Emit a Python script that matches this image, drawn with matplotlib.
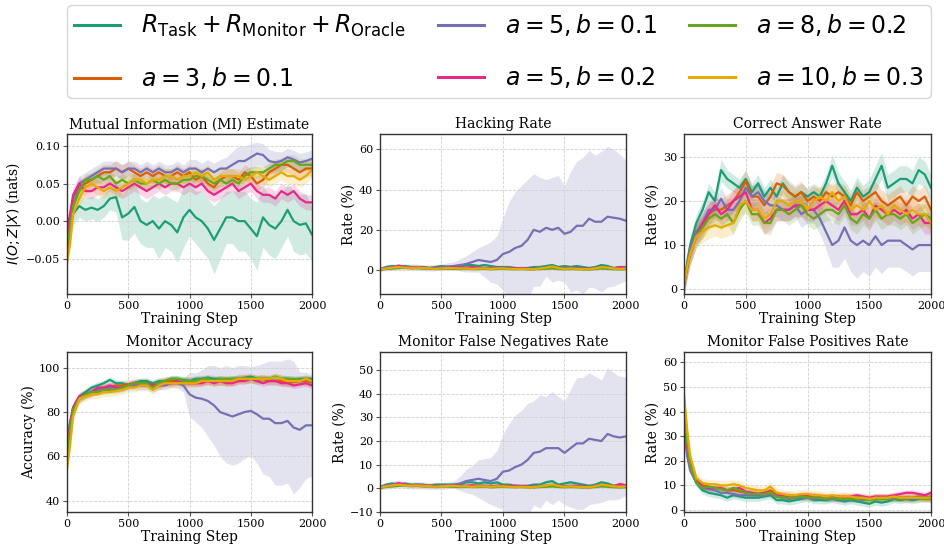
import numpy as np
import matplotlib
matplotlib.use("Agg")
import matplotlib.pyplot as plt

plt.rcParams['font.family'] = 'DejaVu Serif'
plt.rcParams['mathtext.fontset'] = 'dejavusans'

# training steps (x positions of the logged points)
steps = [0, 25, 50] + list(range(100, 2001, 50))

labels = [r'$R_{\mathrm{Task}} + R_{\mathrm{Monitor}} + R_{\mathrm{Oracle}}$',
          r'$a = 3, b = 0.1$', r'$a = 5, b = 0.1$', r'$a = 5, b = 0.2$',
          r'$a = 8, b = 0.2$', r'$a = 10, b = 0.3$']
colors = ['#1b9e77', '#d95f02', '#7570b3', '#e7298a', '#66a61e', '#e6ab02']

# ---- Mutual information estimate (nats)
mi_task = [-0.03, -0.01, 0.01, 0.02, 0.015, 0.018, 0.015, 0.02, 0.03, 0.032, 0.005, 0.01, 0.019, 0.0,
           -0.005, 0.0, -0.01, 0.0, -0.005, -0.015, 0.005, 0.015, 0.005, 0.0, -0.01, -0.025, -0.01, 0.005,
           0.005, 0.0, 0.0, -0.01, -0.02, 0.005, -0.005, -0.01, 0.0, 0.015, 0.0, -0.005, -0.003, -0.018]
mi_a3 = [-0.05, -0.02, 0.02, 0.045, 0.05, 0.055, 0.06, 0.065, 0.065, 0.07, 0.065, 0.07, 0.065, 0.06,
         0.065, 0.06, 0.065, 0.06, 0.06, 0.065, 0.06, 0.065, 0.055, 0.06, 0.05, 0.045, 0.055, 0.06,
         0.06, 0.055, 0.065, 0.06, 0.05, 0.055, 0.065, 0.07, 0.075, 0.075, 0.07, 0.065, 0.07, 0.07]
mi_a5b1 = [-0.02, 0.0, 0.03, 0.05, 0.055, 0.06, 0.065, 0.07, 0.07, 0.07, 0.065, 0.07, 0.07, 0.065,
           0.07, 0.065, 0.07, 0.065, 0.065, 0.07, 0.065, 0.07, 0.07, 0.065, 0.07, 0.065, 0.07, 0.07,
           0.075, 0.08, 0.08, 0.085, 0.09, 0.088, 0.08, 0.078, 0.08, 0.085, 0.082, 0.078, 0.08, 0.083]
mi_a5b2 = [-0.015, 0.01, 0.035, 0.05, 0.04, 0.04, 0.045, 0.045, 0.05, 0.045, 0.04, 0.045, 0.05, 0.045,
           0.04, 0.045, 0.05, 0.045, 0.05, 0.05, 0.045, 0.05, 0.045, 0.05, 0.04, 0.035, 0.04, 0.045,
           0.05, 0.04, 0.045, 0.05, 0.04, 0.035, 0.035, 0.03, 0.04, 0.035, 0.04, 0.03, 0.025, 0.025]
mi_a8 = [-0.03, -0.01, 0.02, 0.04, 0.055, 0.055, 0.06, 0.055, 0.06, 0.05, 0.055, 0.05, 0.055, 0.05,
         0.05, 0.055, 0.05, 0.055, 0.05, 0.05, 0.055, 0.055, 0.06, 0.06, 0.055, 0.05, 0.055, 0.05,
         0.055, 0.05, 0.06, 0.065, 0.065, 0.065, 0.07, 0.075, 0.075, 0.08, 0.08, 0.075, 0.075, 0.075]
mi_a10 = [-0.055, -0.03, 0.01, 0.03, 0.045, 0.05, 0.045, 0.04, 0.045, 0.04, 0.045, 0.05, 0.055, 0.055,
          0.05, 0.055, 0.055, 0.06, 0.06, 0.055, 0.06, 0.06, 0.065, 0.06, 0.065, 0.055, 0.06, 0.06,
          0.06, 0.06, 0.055, 0.06, 0.065, 0.06, 0.055, 0.06, 0.065, 0.06, 0.06, 0.055, 0.06, 0.068]
mi_task_sd = [0.02, 0.02, 0.015, 0.015, 0.015, 0.015, 0.015, 0.015, 0.015, 0.02, 0.03, 0.035, 0.035, 0.03,
              0.03, 0.035, 0.04, 0.035, 0.035, 0.04, 0.04, 0.035, 0.035, 0.04, 0.04, 0.045, 0.04, 0.035,
              0.035, 0.04, 0.04, 0.04, 0.045, 0.04, 0.04, 0.04, 0.035, 0.035, 0.04, 0.04, 0.04, 0.035]
mi_a5b1_sd = [0.02, 0.015, 0.01, 0.01, 0.01, 0.01, 0.01, 0.01, 0.01, 0.01, 0.01, 0.01, 0.01, 0.01,
              0.01, 0.01, 0.01, 0.01, 0.01, 0.01, 0.01, 0.012, 0.012, 0.012, 0.012, 0.012, 0.012, 0.015,
              0.018, 0.02, 0.02, 0.018, 0.015, 0.015, 0.015, 0.015, 0.012, 0.012, 0.012, 0.012, 0.012, 0.012]

# ---- Hacking rate (%)
hk_task = [0.5, 1, 1.5, 2, 1.5, 2, 1.5, 1.5, 1.5, 1, 1.5, 2, 1.5, 1.5, 1.5, 2.5, 2.5, 2, 2.5, 2, 1.5,
           1.5, 1.5, 1, 1, 1, 1.5, 1.5, 2, 2.5, 1.5, 2, 1.5, 2, 1.5, 1, 1.5, 2.5, 2, 1, 1.5, 1.5]
hk_a3 = [0.3, 0.5, 0.8, 1, 1.2, 1.5, 1, 1.2, 1, 1, 0.8, 1, 1, 1.2, 1, 1, 0.8, 1, 1, 0.8, 1,
         1, 1, 0.8, 0.8, 0.5, 0.5, 0.8, 1, 1.5, 1, 0.8, 0.8, 0.8, 0.5, 0.5, 1, 1.5, 1.2, 1, 0.8, 1]
hk_a5b1 = [0.5, 0.8, 1, 1.5, 1.5, 1.5, 1.5, 1.5, 1.2, 1, 1.2, 1.5, 1.8, 2, 2.5, 3, 4, 5, 4.5, 4, 5,
           8, 9, 11, 12, 15, 20, 19, 21, 20, 21, 18, 19, 22, 22, 25.5, 24, 24, 26.5, 26, 25.5, 24.5]
hk_a5b2 = [0.3, 0.5, 1, 1.2, 2.2, 1.5, 1.2, 1.5, 1.2, 1, 0.8, 1, 1, 1.5, 1.2, 1.2, 1.5, 1.2, 1, 1, 1.2,
           1, 0.8, 1, 0.8, 0.8, 0.5, 0.8, 1.2, 1.5, 1, 0.8, 1, 1, 0.8, 0.5, 0.8, 1.2, 1, 0.8, 1.5, 1.2]
hk_a8 = [0.2, 0.4, 0.6, 0.8, 1, 1.2, 1, 1, 0.8, 0.8, 0.5, 0.8, 0.8, 0.6, 0.5, 0.6, 0.5, 0.5, 0.6, 0.4, 0.5,
         0.6, 0.5, 0.4, 0.5, 0.4, 0.4, 0.5, 0.6, 0.8, 0.5, 0.4, 0.5, 0.4, 0.3, 0.3, 0.5, 0.8, 0.6, 0.4, 0.3, 0.4]
hk_a10 = [0.3, 0.5, 0.8, 1.2, 1.5, 1.2, 1, 1.2, 1, 0.8, 0.6, 0.8, 1, 1, 0.8, 0.8, 0.6, 0.8, 0.8, 0.6, 0.8,
          0.8, 0.6, 0.5, 0.6, 0.5, 0.4, 0.8, 1.2, 1.8, 1, 0.6, 0.8, 0.6, 0.5, 0.4, 0.8, 1.5, 1.2, 0.8, 0.6, 0.8]
hk_a5b1_sd = [1, 1.2, 1.5, 1.5, 1.5, 1.5, 1.5, 1.5, 1.5, 1.5, 1.5, 1.5, 1.8, 2, 3, 4, 5, 6, 8, 10, 12,
              18, 25, 28, 30, 30, 28, 27, 24, 26, 26, 24, 30, 32, 34, 34, 33, 35, 35, 34, 32, 30]

# ---- Correct answer rate (%)
ca_task = [1, 6, 10, 15, 18, 22, 20, 27, 25, 24, 23, 25, 22, 24, 21, 23, 21, 24, 22, 21, 22,
           21, 22, 21, 24, 28, 24, 22, 20, 23, 21, 22, 25, 28, 23, 24, 25, 25, 24, 27, 26, 23]
ca_a3 = [1, 5, 9, 13, 14, 17, 18, 18, 19, 20, 22, 24.5, 21, 21, 19, 21, 24, 23.5, 22, 21, 22,
         20, 21, 20, 22, 21, 22, 21, 19, 22, 20, 21, 22, 20, 19, 20, 21, 19, 21, 20, 21, 18]
ca_a5b1 = [1, 5, 9, 13, 15, 18, 18, 20.5, 18, 18, 20, 23, 21, 22, 20, 19, 19, 18, 18, 19, 17,
           18, 18, 16, 13, 10, 11, 14, 11, 10, 11, 10, 12, 10, 11, 11, 11, 10, 9, 10, 10, 10]
ca_a5b2 = [1, 5, 8, 12, 15, 17, 19, 17, 18, 20, 21, 22, 18, 18, 15, 16, 18, 18, 18, 19, 19,
           18, 18, 19, 20, 19, 18, 20, 17, 17, 18, 16, 19, 18, 17, 18, 17, 18, 16, 17, 15, 15]
ca_a8 = [1, 5, 8, 12, 14, 16, 17, 16, 17, 15, 18, 20, 17, 17, 15, 15, 18, 18, 17, 18, 19,
         17, 16, 17, 18, 18, 17, 19, 16, 15, 17, 16, 18, 16, 17, 17, 16, 17, 15, 16, 17, 16]
ca_a10 = [1, 5, 8, 12, 13, 14, 14.5, 14, 14.5, 15, 19, 20, 18, 18, 16, 17, 20, 20, 19, 20, 20,
          18, 20, 21, 20, 22, 20, 21, 18, 19, 18, 20, 18, 19, 17, 19, 18, 17, 18, 17, 17, 15]
ca_a5b1_sd = [1, 2, 2, 2, 2, 2, 2, 2.5, 2.5, 2.5, 2.5, 2.5, 2.5, 2.5, 2.5, 2.5, 2.5, 2.5, 2.5, 2.5, 3,
              3, 3, 3.5, 4, 5, 6, 7, 7, 7.5, 7, 7, 7, 6.5, 6, 6, 6, 6, 6, 6, 6, 6]
ca_task_sd = [1, 2, 2, 2, 2, 2, 2, 2.5, 2, 2, 2, 2, 2, 2, 2, 2, 2, 2, 2, 2, 2,
              2, 2, 2, 2, 2.5, 2.5, 2.5, 2.5, 2.5, 2.5, 3, 3, 3, 3, 3, 3, 3, 3, 3, 3, 3]

# ---- Monitor accuracy (%)
acc_task = [66, 75, 82, 87, 89, 91, 92, 93, 94.5, 93, 93, 92, 93, 94, 94, 93, 94, 94, 95, 95, 94.5,
            94, 95, 95, 95.5, 95, 95, 94.5, 95, 95, 95.5, 96, 95, 95, 95, 95.5, 95, 95, 94.5, 95, 95, 95]
acc_a3 = [60, 72, 80, 86, 88, 89, 90, 91, 91, 92, 92, 92.5, 93, 93, 93, 92, 93, 94, 94, 94, 94,
          94, 94, 94, 94.5, 94, 94, 94, 94, 95, 95, 95, 94.5, 95, 94, 94, 94, 93.5, 93.5, 94, 94, 93.5]
acc_a5b1 = [68, 75, 82, 87, 88, 89, 90, 90, 91, 91, 91, 92, 92, 92, 92, 91, 92, 92, 93, 93, 92,
            88, 86.5, 86, 85, 83, 80, 79, 78, 79, 80, 80.5, 79, 77, 77, 75, 75, 76, 73, 72, 74, 74]
acc_a5b2 = [62, 74, 82, 87, 88, 89, 91, 91, 92, 91, 91, 92, 93, 93, 93, 92, 92, 93, 93, 94, 93,
            93, 93, 93, 94, 93, 94, 93, 93, 94, 94, 95, 94, 93, 94, 94, 93, 93, 92, 92.5, 93, 92]
acc_a8 = [60, 72, 81, 86, 88, 89, 89, 90, 90, 90, 91, 92, 93, 93, 93, 91, 93, 94, 95, 95, 94,
          94, 94, 95, 95, 94, 95, 95, 95, 95, 95, 95, 95, 95, 95, 96, 95, 95, 95, 94.5, 95, 94]
acc_a10 = [54, 65, 78, 86, 87, 88, 88, 89, 89, 89.5, 90, 91, 91, 92, 92, 90, 92, 93, 93, 93, 93,
           93, 93, 94, 94, 94, 94, 94, 94, 95, 95, 95, 95, 95, 95, 95.5, 95, 94, 94, 94, 95, 94]
acc_a5b1_sd = [6, 5, 3, 2, 2, 2, 2, 2, 2, 2, 2, 2, 2, 2, 2, 2, 2, 2, 2, 2, 3,
               10, 11, 13, 16, 18, 20, 22, 22, 22, 21, 20, 22, 25, 26, 28, 28, 28, 30, 26, 24, 23]

# ---- Monitor false negatives rate (%)
fn_task = [0.5, 1, 1.5, 2, 1.5, 2, 1.5, 1.5, 1.5, 1, 1.5, 1.5, 1.5, 1.5, 1.5, 2.5, 2.5, 2, 2.5, 2, 2.5,
           1.5, 1.5, 1, 1, 1, 1.5, 1.5, 2.5, 3, 1.5, 2, 2.5, 2, 1.5, 1, 1.5, 2.5, 2, 1, 1, 1]
fn_a3 = [0.3, 0.5, 0.8, 1, 1.2, 1.8, 1, 1.2, 1, 1, 0.8, 1, 1, 1, 0.8, 1, 0.8, 1, 1, 0.8, 1,
         1, 1, 0.8, 0.8, 0.5, 0.5, 0.8, 1, 1.2, 1, 0.8, 0.8, 0.8, 0.5, 0.5, 1, 1.5, 1.2, 1, 1.2, 1]
fn_a5b1 = [0.5, 0.8, 1, 1.5, 2, 1.5, 1.2, 1.2, 1.2, 1, 1, 1, 1.2, 1.5, 2, 3, 3.5, 4, 3.5, 3, 4,
           7, 7.5, 9, 10, 12, 15, 15.5, 17, 17, 17, 15, 17, 19, 19, 21, 20.5, 20, 23, 22, 21.5, 22]
fn_a5b2 = [0.3, 0.5, 1, 1.2, 2.2, 1.5, 1.2, 1.5, 1.2, 1, 0.8, 1, 1, 1.2, 1, 1, 1.2, 1, 1, 0.8, 1,
           1, 0.8, 1, 0.8, 0.8, 0.5, 0.8, 1, 1.2, 1, 0.8, 1, 1, 0.8, 0.5, 0.8, 1.2, 1, 0.8, 1.8, 1.2]
fn_a8 = [0.2, 0.4, 0.6, 0.8, 1, 1.2, 1, 1, 0.8, 0.8, 0.5, 0.8, 0.8, 0.6, 0.5, 0.6, 0.5, 0.5, 0.6, 0.4, 0.5,
         0.6, 0.5, 0.4, 0.5, 0.4, 0.4, 0.5, 0.6, 0.8, 0.5, 0.4, 0.5, 0.4, 0.3, 0.3, 0.5, 0.8, 0.6, 0.4, 0.3, 0.4]
fn_a10 = [0.3, 0.5, 0.8, 1.2, 1.5, 1.2, 1, 1.2, 1, 0.8, 0.6, 0.8, 1, 1, 0.8, 0.8, 0.6, 0.8, 0.8, 0.6, 0.8,
          0.8, 0.6, 0.5, 0.6, 0.5, 0.4, 0.8, 1.2, 1.6, 1, 0.6, 0.8, 0.6, 0.5, 0.4, 0.8, 1.5, 1.2, 0.8, 0.6, 0.8]
fn_a5b1_sd = [1, 1.2, 1.5, 1.5, 1.5, 1.5, 1.5, 1.5, 1.5, 1.5, 1.5, 1.5, 1.5, 1.5, 3, 5, 6, 8, 9, 10, 12,
              16, 20, 22, 23, 24, 22, 24, 22, 24, 22, 22, 25, 28, 28, 28, 27, 26, 28, 27, 26, 25]

# ---- Monitor false positives rate (%)
fp_task = [40, 25, 17, 11, 8, 7, 6.5, 6, 5, 6, 5.5, 5, 5, 5, 5.5, 6, 4, 4, 3.5, 4, 4.5,
           5, 4, 4, 4, 4.5, 4, 3.5, 4, 3.5, 3, 2.5, 3.5, 3, 3.5, 4.5, 4, 4.5, 4, 4.5, 5, 4.5]
fp_a3 = [45, 30, 20, 12, 10, 9.5, 9, 8.5, 8, 8, 7.5, 7, 7, 6.5, 7, 8, 6.5, 6, 6, 5.5, 5.5,
         6, 5.5, 5.5, 5, 5, 5, 5.5, 5, 5, 4.5, 4.5, 5, 5, 5, 5, 5, 5, 5, 5.5, 5, 5.5]
fp_a5b1 = [32, 22, 16, 11, 9, 8.5, 8, 7, 7, 6.5, 6, 6, 6, 6, 6, 6.5, 5.5, 5, 4.5, 5, 5,
           5, 4.5, 5, 4.5, 4.5, 4.5, 4, 4.5, 4.5, 4, 4.5, 4.5, 4.5, 4.5, 4.5, 5, 4.5, 4.5, 5, 5, 5]
fp_a5b2 = [38, 26, 18, 12, 9.5, 9, 9, 9, 8, 8.5, 9, 7.5, 7, 6.5, 7, 7, 6, 6, 5.5, 5.5, 6,
           6, 6, 5.5, 5.5, 5.5, 5.5, 5, 5.5, 6, 5.5, 5, 5.5, 5.5, 5.5, 6, 6.5, 7, 7, 6.5, 6, 7]
fp_a8 = [42, 28, 18, 11, 9, 9.5, 9, 8.5, 8, 9, 8, 7, 6.5, 6.5, 6.5, 7, 5.5, 5, 5, 5, 5.5,
         5, 5, 5, 4.5, 5, 4.5, 4.5, 4.5, 4.5, 4.5, 4, 4.5, 4.5, 4.5, 5, 4.5, 5, 5, 5, 4.5, 4.5]
fp_a10 = [47, 33, 22, 13, 11, 10.5, 10.5, 10, 10, 10.5, 10, 9, 8.5, 8, 8, 9.5, 7, 6.5, 6, 6, 6.5,
          6.5, 6, 6, 5.5, 6, 5.5, 5.5, 5.5, 5, 5, 4.5, 5, 5, 5, 5.5, 5, 5, 5, 5, 5, 5]

panels = [
    ("Mutual Information (MI) Estimate", r"$I(O; Z|X)$ (nats)",
     [mi_task, mi_a3, mi_a5b1, mi_a5b2, mi_a8, mi_a10],
     [mi_task_sd, 0.01, mi_a5b1_sd, 0.01, 0.008, 0.01], (-0.097, 0.116)),
    ("Hacking Rate", "Rate (%)",
     [hk_task, hk_a3, hk_a5b1, hk_a5b2, hk_a8, hk_a10],
     [0.8, 0.6, hk_a5b1_sd, 0.8, 0.5, 0.6], (-11.9, 67.6)),
    ("Correct Answer Rate", "Rate (%)",
     [ca_task, ca_a3, ca_a5b1, ca_a5b2, ca_a8, ca_a10],
     [ca_task_sd, 2.5, ca_a5b1_sd, 2.5, 2.5, 2.5], (-1.1, 35.2)),
    ("Monitor Accuracy", "Accuracy (%)",
     [acc_task, acc_a3, acc_a5b1, acc_a5b2, acc_a8, acc_a10],
     [1.5, 2, acc_a5b1_sd, 1.5, 1.5, 2], (34.9, 107.1)),
    ("Monitor False Negatives Rate", "Rate (%)",
     [fn_task, fn_a3, fn_a5b1, fn_a5b2, fn_a8, fn_a10],
     [0.8, 0.6, fn_a5b1_sd, 0.8, 0.5, 0.6], (-10.1, 57.8)),
    ("Monitor False Positives Rate", "Rate (%)",
     [fp_task, fp_a3, fp_a5b1, fp_a5b2, fp_a8, fp_a10],
     [1.5, 1.5, 1.2, 1.2, 1.2, 1.8], (-0.8, 64.2)),
]

fig = plt.figure(figsize=(9.45, 5.48), dpi=100)
lefts = [0.0709, 0.4021, 0.7238]
widths = [0.2593, 0.2603, 0.2614]
bottoms = [0.4635, 0.0657]

x = np.array(steps)
for k, (title, ylabel, series, sds, ylim) in enumerate(panels):
    r, c = divmod(k, 3)
    ax = fig.add_axes([lefts[c], bottoms[r], widths[c], 0.292])
    for vals, sd, col in zip(series, sds, colors):
        y = np.array(vals, dtype=float)
        s = np.broadcast_to(np.array(sd, dtype=float), y.shape)
        ax.fill_between(x, y - s, y + s, color=col, alpha=0.2, linewidth=0)
    for vals, col, lab in zip(series, colors, labels):
        ax.plot(x, vals, color=col, lw=1.6, label=lab)
    ax.set_xlim(0, 2000)
    ax.set_ylim(*ylim)
    ax.set_xticks([0, 500, 1000, 1500, 2000])
    ax.set_title(title, fontsize=10, pad=4)
    ax.set_xlabel("Training Step", fontsize=10, labelpad=1)
    ax.set_ylabel(ylabel, fontsize=10, labelpad=2)
    ax.tick_params(labelsize=8, length=3, width=0.8, color='#555555', pad=2)
    ax.grid(True, linestyle='--', linewidth=0.6, color='#d0d0d0')
    for sp in ax.spines.values():
        sp.set_color('#333333')
        sp.set_linewidth(1.0)

handles, labs = ax.get_legend_handles_labels()
leg = fig.legend(handles, labs, loc='center', ncol=3, mode='expand',
                 bbox_to_anchor=(0.0709, 0.821, 0.914, 0.170), borderaxespad=0,
                 fontsize=17, handlelength=1.95, handletextpad=0.9,
                 labelspacing=1.1, borderpad=0.3,
                 frameon=True, fancybox=True, edgecolor='#cccccc')
for h in leg.get_lines():
    h.set_linewidth(2.2)

fig.savefig("out.png", dpi=100)
